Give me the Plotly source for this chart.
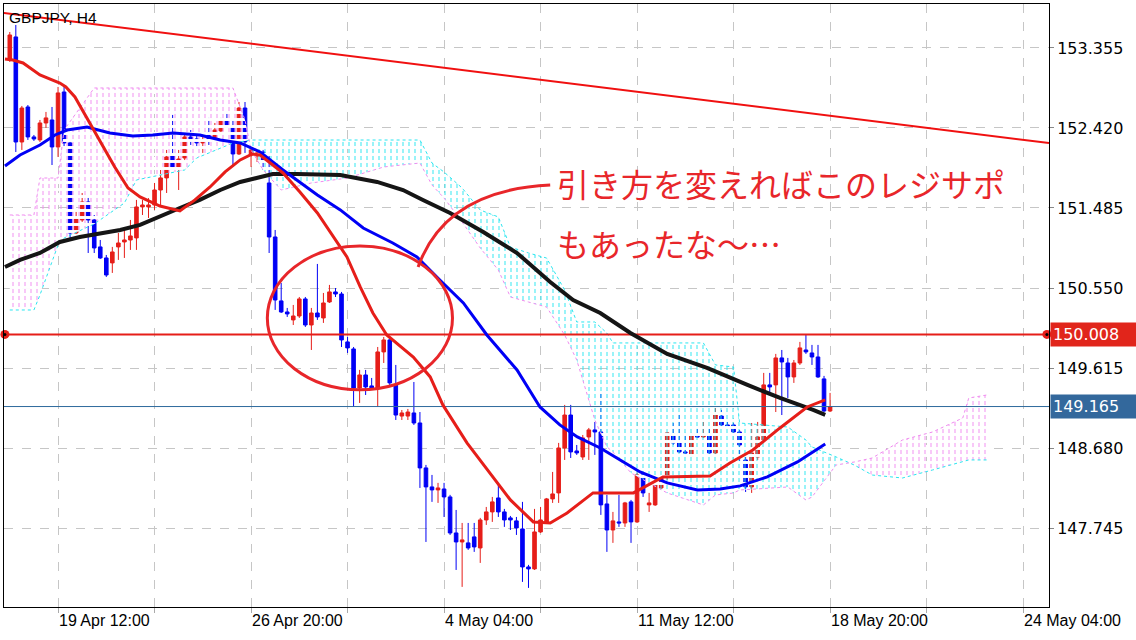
import plotly.graph_objects as go

# ---------------- data ----------------
title_text = "GBPJPY, H4"
bar_idx = list(range(137))
opens = [153.214,153.483,152.256,152.665,152.315,152.280,152.478,152.513,152.198,152.840,
         152.245,151.193,151.345,151.555,151.345,151.030,150.901,150.843,151.030,151.088,
         151.111,151.135,151.497,151.497,151.520,151.695,151.836,152.093,151.964,152.069,
         152.315,152.291,152.245,152.361,152.303,152.385,152.501,152.431,152.116,152.653,
         152.104,152.093,152.139,151.777,151.146,150.399,150.270,150.177,150.223,150.422,
         150.118,150.258,150.200,150.387,150.504,150.480,149.920,149.838,149.382,149.534,
         149.406,149.382,149.803,149.943,149.418,149.054,149.054,149.090,148.973,148.448,
         148.226,148.191,148.202,148.109,147.688,147.583,147.572,147.642,147.513,147.840,
         147.934,148.097,147.934,147.864,147.829,147.735,147.291,147.268,147.700,147.817,
         148.086,148.156,148.681,149.066,148.646,148.576,148.810,148.892,148.868,148.027,
         147.723,147.817,147.805,148.051,147.817,148.366,148.016,148.016,148.214,148.343,
         148.845,148.740,148.635,148.588,148.822,148.810,148.822,148.623,149.054,148.950,
         148.950,148.868,148.541,148.226,148.576,148.752,149.418,149.418,149.733,149.674,
         149.511,149.674,149.826,149.791,149.744,149.488,149.113]
highs = [153.541,153.623,152.677,152.688,152.338,152.513,152.607,152.665,152.899,152.899,
         152.280,151.462,151.660,151.614,151.403,151.111,150.936,151.030,151.193,151.228,
         151.345,151.579,151.579,151.600,151.777,151.929,152.163,152.572,152.163,152.361,
         152.396,152.361,152.361,152.537,152.478,152.537,152.595,152.513,152.723,152.723,
         152.198,152.163,152.163,152.128,151.228,150.609,150.317,150.352,150.445,150.445,
         150.317,150.831,150.492,150.586,150.550,150.504,149.978,149.861,149.593,149.593,
         149.499,149.861,149.978,149.978,149.651,149.125,149.137,149.452,149.101,148.483,
         148.366,148.273,148.273,148.133,147.957,147.805,147.805,147.805,147.864,147.992,
         148.109,148.249,147.969,147.887,147.875,148.051,147.315,147.969,147.992,148.097,
         148.401,148.740,149.184,149.184,148.716,148.833,148.915,148.985,149.324,148.133,
         147.934,148.133,148.051,148.074,148.390,148.390,148.156,148.284,148.354,148.868,
         148.973,149.090,148.857,148.857,148.915,148.985,148.915,149.160,149.125,148.985,
         148.973,148.892,148.576,148.973,148.985,149.558,149.558,149.780,149.826,149.733,
         149.709,149.920,150.001,149.885,149.885,149.523,149.324]
lows = [153.191,152.139,152.163,152.280,152.268,152.256,152.420,151.987,152.081,152.198,
        151.111,151.180,151.322,150.959,150.959,150.890,150.679,150.726,150.878,150.901,
        150.995,150.995,151.403,151.368,151.462,151.520,151.660,151.952,151.695,152.022,
        152.221,152.198,152.128,152.221,152.280,152.338,152.431,151.964,152.104,152.128,
        151.964,152.022,151.929,150.959,150.294,150.258,150.212,150.118,150.200,150.095,
        149.826,150.177,150.142,150.375,150.445,149.861,149.791,149.160,149.207,149.300,
        149.359,149.160,149.674,149.394,149.008,149.008,149.008,148.950,148.214,147.583,
        148.051,148.039,147.875,147.665,147.256,147.058,147.490,147.467,147.338,147.782,
        147.817,147.875,147.759,147.723,147.665,147.116,147.046,147.256,147.688,147.805,
        148.039,148.039,148.541,148.564,148.600,148.541,148.541,148.600,147.899,147.467,
        147.572,147.759,147.759,147.572,147.805,148.109,147.934,148.004,148.191,148.308,
        148.716,148.623,148.600,148.576,148.798,148.798,148.611,148.600,148.927,148.915,
        148.857,148.518,148.167,148.156,148.541,148.740,149.300,149.101,149.066,149.265,
        149.441,149.651,149.780,149.651,149.499,149.101,149.101]
closes = [153.506,152.256,152.653,152.315,152.291,152.478,152.537,152.198,152.829,152.245,
          151.193,151.368,151.555,151.345,151.018,150.901,150.702,150.971,151.076,151.111,
          151.158,151.497,151.520,151.520,151.695,151.836,152.081,151.964,152.057,152.315,
          152.268,152.245,152.268,152.280,152.396,152.501,152.455,152.116,152.653,152.256,
          152.163,152.128,152.046,151.146,150.410,150.270,150.247,150.223,150.422,150.118,
          150.258,150.212,150.375,150.504,150.480,149.943,149.850,149.382,149.534,149.394,
          149.382,149.803,149.943,149.441,149.066,149.090,149.101,148.973,148.448,148.226,
          148.191,148.214,148.109,147.688,147.583,147.607,147.513,147.525,147.840,147.934,
          148.051,147.934,147.840,147.840,147.747,147.291,147.268,147.700,147.840,148.086,
          148.144,148.681,149.066,148.635,148.623,148.798,148.892,148.868,148.016,147.723,
          147.829,147.805,148.039,147.817,148.366,148.156,148.039,148.273,148.343,148.857,
          148.740,148.635,148.623,148.822,148.810,148.833,148.623,149.066,148.950,148.927,
          148.868,148.716,148.226,148.623,148.810,149.418,149.394,149.733,149.686,149.511,
          149.674,149.850,149.803,149.744,149.511,149.113,149.165]

# moving averages (bar index, price)
red_ma_idx = [-0.8,0.5,2.2,5.0,8.3,9.3,10.8,12.5,14.1,15.8,17.4,19.6,21.6,24.9,28.2,30.7,33.2,35.7,
              38.2,40.2,41.5,45.3,48.1,51.0,52.6,55.9,58.1,60.2,62.5,65.2,66.9,69.7,71.8,75.8,
              79.6,83.0,86.8,89.6,92.4,96.7,103.4,108.3,116.1,119.4,123.2,127.7,132.2,135.2]
red_ma = [153.226,153.214,153.179,153.039,152.945,152.899,152.782,152.572,152.361,152.163,
          151.964,151.718,151.614,151.508,151.450,151.579,151.730,151.906,152.046,152.116,
          152.104,151.894,151.672,151.427,151.263,150.913,150.562,150.258,150.001,149.850,
          149.744,149.511,149.184,148.740,148.390,148.074,147.817,147.805,147.922,148.156,
          148.156,148.343,148.354,148.506,148.658,148.915,149.160,149.242]
blue_ma_idx = [-0.8,1.7,5.0,7.5,9.5,12.8,16.6,20.4,23.7,27.1,31.5,34.9,38.2,41.5,45.3,51.0,54.8,
               58.6,63.5,67.5,71.3,75.2,79.1,84.1,87.9,91.2,94.1,97.9,101.2,104.5,109.0,114.0,
               117.8,121.1,125.6,130.6,135.2]
blue_ma = [151.975,152.104,152.221,152.338,152.396,152.431,152.361,152.326,152.338,152.361,
           152.338,152.280,152.245,152.139,151.929,151.637,151.462,151.251,151.076,150.913,
           150.644,150.375,150.001,149.592,149.160,148.950,148.810,148.681,148.541,148.401,
           148.273,148.191,148.202,148.238,148.343,148.518,148.728]
black_ma_idx = [-0.8,1.7,5.0,8.3,11.6,15.0,18.3,21.6,24.9,28.2,31.5,34.9,38.2,41.5,43.6,47.6,54.8,
                60.9,65.2,68.5,73.0,78.5,84.1,89.6,93.4,97.9,102.9,109.0,115.6,122.3,127.7,133.2,135.2]
black_ma = [150.796,150.878,150.959,151.088,151.146,151.193,151.228,151.287,151.380,151.485,
            151.579,151.695,151.789,151.847,151.882,151.882,151.871,151.789,151.695,151.579,
            151.427,151.205,150.959,150.620,150.410,150.258,150.025,149.780,149.616,149.418,
            149.265,149.125,149.067]

# ichimoku cloud edges
cloud_idx = [0,4,5,8,9,14,19,21,29,31,37,39,40,42,45,50,56,62,68,70,72,75,78,81,83,86,89,92,94,97,
             99,100,103,109,115,117,120,121,129,132,133,137,140,143,148,153,158,159,162]
span_a = [150.293,150.293,150.468,151.052,151.134,151.298,151.543,151.812,151.929,152.069,
          152.244,152.267,152.279,152.279,152.279,152.279,152.279,152.279,152.279,152.010,
          151.905,151.718,151.461,151.380,151.029,150.959,150.900,150.527,150.153,150.153,
          150.024,149.908,149.908,149.908,149.908,149.651,149.627,148.973,148.926,148.774,
          148.693,148.576,148.482,148.365,148.330,148.424,148.517,148.541,148.541]
span_b = [151.403,151.403,151.835,151.835,152.396,152.887,152.887,152.887,152.887,152.887,
          152.887,152.513,152.162,151.929,151.695,151.777,151.835,151.964,152.010,151.753,
          151.601,151.321,151.017,150.760,150.445,150.386,150.328,150.001,149.709,149.008,
          148.693,148.634,148.389,148.155,148.015,148.132,148.155,148.190,148.225,148.073,
          148.108,148.482,148.517,148.564,148.774,148.868,149.031,149.265,149.300]

trend_idx = [-1.0, 172.3]
trend_val = [153.763, 152.244]
resistance = 150.008
last_price = 149.165

y_ticks = [153.355, 152.420, 151.485, 150.550, 149.615, 148.680, 147.745]
grid_idx = [8, 24, 40, 56, 72, 88, 104, 120, 136, 152, 168]
label_idx = [8, 40, 72, 104, 136, 168]
label_text = ["19 Apr 12:00", "26 Apr 20:00", "4 May 04:00", "11 May 12:00", "18 May 20:00", "24 May 04:00"]
note_line1 = "引き方を変えればこのレジサポ"
note_line2 = "もあったな～…"

# ---------------- styling ----------------
RED = "#e61e19"
BLUE = "#0000f5"
PINK = "#f08cf0"
CYAN = "#2ae6f0"
X_RANGE = [-0.96, 172.3]
Y_RANGE = [146.823, 153.868]

fig = go.Figure()

# cloud polygons split where the spans cross
def cloud_paths(xs, a, b):
    runs = []
    def col(d):
        return "pink" if d > 0 else "cyan"
    cur_c = col(b[0] - a[0])
    up, lo = [(xs[0], max(a[0], b[0]))], [(xs[0], min(a[0], b[0]))]
    for k in range(1, len(xs)):
        d0 = b[k-1] - a[k-1]
        d1 = b[k] - a[k]
        if d0 * d1 < 0:
            t = d0 / (d0 - d1)
            xc = xs[k-1] + t * (xs[k] - xs[k-1])
            yc = a[k-1] + t * (a[k] - a[k-1])
            up.append((xc, yc)); lo.append((xc, yc))
            runs.append((cur_c, up, lo))
            cur_c = col(d1)
            up, lo = [(xc, yc)], [(xc, yc)]
        up.append((xs[k], max(a[k], b[k])))
        lo.append((xs[k], min(a[k], b[k])))
    runs.append((cur_c, up, lo))
    out = {"pink": ([], []), "cyan": ([], [])}
    for c, u, l in runs:
        pts = u + l[::-1] + [u[0]]
        px, py = out[c]
        px += [p[0] for p in pts] + [None]
        py += [p[1] for p in pts] + [None]
    return out

paths = cloud_paths(cloud_idx, span_a, span_b)
for name, color in (("pink", PINK), ("cyan", CYAN)):
    px, py = paths[name]
    fig.add_trace(go.Scatter(x=px, y=py, mode="lines", fill="toself", line=dict(width=0),
                             fillcolor="rgba(0,0,0,0)",
                             fillpattern=dict(shape="|", size=6, solidity=0.16, fgcolor=color,
                                              bgcolor="rgba(0,0,0,0)", fillmode="replace"),
                             hoverinfo="skip", showlegend=False))
    fig.add_trace(go.Scatter(x=px, y=py, mode="lines", fill="toself", line=dict(width=0),
                             fillcolor="rgba(0,0,0,0)",
                             fillpattern=dict(shape="-", size=7, solidity=0.42, fgcolor="white",
                                              bgcolor="rgba(0,0,0,0)", fillmode="replace"),
                             hoverinfo="skip", showlegend=False))

fig.add_trace(go.Scatter(x=cloud_idx, y=span_a, mode="lines", line=dict(color=CYAN, width=1, dash="dot"),
                         hoverinfo="skip", showlegend=False))
fig.add_trace(go.Scatter(x=cloud_idx, y=span_b, mode="lines", line=dict(color=PINK, width=1, dash="dot"),
                         hoverinfo="skip", showlegend=False))

# horizontal lines and trend line
fig.add_trace(go.Scatter(x=X_RANGE, y=[last_price, last_price], mode="lines",
                         line=dict(color="#2e6a9c", width=1), hoverinfo="skip", showlegend=False))
fig.add_trace(go.Scatter(x=X_RANGE, y=[resistance, resistance], mode="lines",
                         line=dict(color=RED, width=2), hoverinfo="skip", showlegend=False))
fig.add_trace(go.Scatter(x=trend_idx, y=trend_val, mode="lines",
                         line=dict(color="#f01010", width=2), hoverinfo="skip", showlegend=False))

# moving averages
fig.add_trace(go.Scatter(x=black_ma_idx, y=black_ma, mode="lines", line=dict(color="#151515", width=4),
                         hoverinfo="skip", showlegend=False))
fig.add_trace(go.Scatter(x=blue_ma_idx, y=blue_ma, mode="lines", line=dict(color=BLUE, width=3),
                         hoverinfo="skip", showlegend=False))
fig.add_trace(go.Scatter(x=red_ma_idx, y=red_ma, mode="lines", line=dict(color=RED, width=3),
                         hoverinfo="skip", showlegend=False))

# candles
fig.add_trace(go.Candlestick(x=bar_idx, open=opens, high=highs, low=lows, close=closes,
                             increasing=dict(line=dict(color=RED, width=1), fillcolor=RED),
                             decreasing=dict(line=dict(color=BLUE, width=1), fillcolor=BLUE),
                             whiskerwidth=0, hoverinfo="skip", showlegend=False))

# end markers of the horizontal line
fig.add_trace(go.Scatter(x=[X_RANGE[0] + 0.15, X_RANGE[1] - 0.35], y=[resistance, resistance],
                         mode="markers", marker=dict(size=9, color=RED), cliponaxis=False,
                         hoverinfo="skip", showlegend=False))
fig.add_trace(go.Scatter(x=[X_RANGE[0] + 0.15, X_RANGE[1] - 0.35], y=[resistance, resistance],
                         mode="markers", marker=dict(size=3, color="black"), cliponaxis=False,
                         hoverinfo="skip", showlegend=False))

# hand-drawn ellipse and connector
fig.add_shape(type="circle", xref="x", yref="y", x0=42.7, x1=73.4, y0=149.36, y1=151.04,
              line=dict(color="#e8262a", width=3))
fig.add_shape(type="path", xref="x", yref="y",
              path="M 67.7,150.795 Q 72.2,151.695 89.6,151.753",
              line=dict(color="#e8262a", width=3))

# text annotations
fig.add_annotation(x=90.4, y=151.777, xref="x", yref="y", text=note_line1, showarrow=False,
                   xanchor="left", yanchor="middle",
                   font=dict(family="Noto Sans CJK JP", size=32, color="#e8262a"))
fig.add_annotation(x=90.4, y=151.076, xref="x", yref="y", text=note_line2, showarrow=False,
                   xanchor="left", yanchor="middle",
                   font=dict(family="Noto Sans CJK JP", size=32, color="#e8262a"))
fig.add_annotation(x=0, y=1, xref="paper", yref="paper", text=title_text, showarrow=False,
                   xanchor="left", yanchor="top", xshift=3, yshift=-3,
                   font=dict(family="Liberation Sans", size=15.5, color="black"))

# x labels, left aligned at their ticks
for i, t in zip(label_idx, label_text):
    fig.add_annotation(x=i, y=0, xref="x", yref="paper", text=t, showarrow=False,
                       xanchor="left", yanchor="top", yshift=-3, xshift=-1,
                       font=dict(family="Liberation Sans Narrow, Liberation Sans", size=16, color="black"))

# price boxes on the axis
for val, bg in ((resistance, "#e1251b"), (last_price, "#33689c")):
    fig.add_annotation(x=1, y=val, xref="paper", yref="y", text=f"{val:.3f}", showarrow=False,
                       xanchor="left", yanchor="middle", xshift=1,
                       bgcolor=bg, borderpad=2, width=82, align="left",
                       font=dict(family="DejaVu Sans", size=16, color="white"))

fig.update_layout(
    width=1136, height=640,
    margin=dict(l=4, r=87, t=4, b=33),
    paper_bgcolor="white", plot_bgcolor="white",
    showlegend=False, boxgap=0.15,
    xaxis=dict(range=X_RANGE, tickvals=grid_idx, showticklabels=False, ticks="outside",
               ticklen=5, tickcolor="#aaaaaa", showgrid=True, gridcolor="#c6c6c6", griddash="dash",
               gridwidth=1, showline=True, linecolor="black", linewidth=1, mirror=True,
               zeroline=False, rangeslider=dict(visible=False), fixedrange=True),
    yaxis=dict(range=Y_RANGE, side="right", tickvals=y_ticks,
               ticktext=[f"{v:.3f}" for v in y_ticks], ticks="outside", ticklen=4,
               tickcolor="#888888", tickfont=dict(family="DejaVu Sans", size=16, color="black"),
               showgrid=True, gridcolor="#c6c6c6", griddash="dash", gridwidth=1,
               showline=True, linecolor="black", linewidth=1, mirror=True, zeroline=False,
               fixedrange=True),
)

fig.write_html("out.html", config={"displayModeBar": False},
               post_script="document.body.style.margin='0px';")
